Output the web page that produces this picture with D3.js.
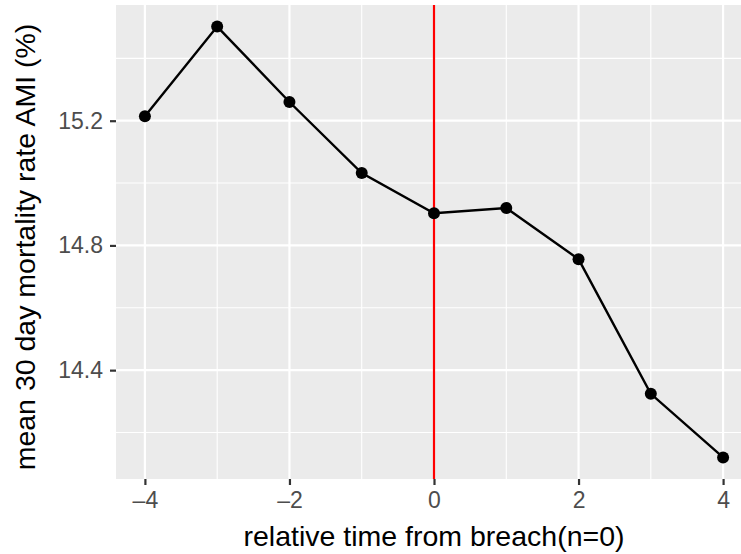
<html>
<head>
<script src="https://d3js.org/d3.v7.min.js"></script>
</head>
<body style="margin:0">
<svg id="chart" width="741" height="554"></svg>
<script>
// relative time from breach and mean 30-day AMI mortality (%)
const times = [-4, -3, -2, -1, 0, 1, 2, 3, 4];
const mortality = [15.214, 15.502, 15.260, 15.032, 14.903, 14.920, 14.756, 14.324, 14.120];
const xTicks = [-4, -2, 0, 2, 4];
const yTicks = [14.4, 14.8, 15.2];
const yMinor = [14.2, 14.6, 15.0, 15.4];
const xMinor = [-3, -1, 1, 3];

const svg = d3.select("#chart");
const panel = { left: 116, top: 5, right: 752, bottom: 479 };
const font = "Liberation Sans, Arial, sans-serif";

svg.append("rect").attr("width", 741).attr("height", 554).attr("fill", "white");

// ggplot-style 5% expansion
const xExt = d3.extent(times), yExt = d3.extent(mortality);
const xPad = (xExt[1] - xExt[0]) * 0.05, yPad = (yExt[1] - yExt[0]) * 0.05;
const x = d3.scaleLinear().domain([xExt[0] - xPad, xExt[1] + xPad]).range([panel.left, panel.right]);
const y = d3.scaleLinear().domain([yExt[0] - yPad, yExt[1] + yPad]).range([panel.bottom, panel.top]);

svg.append("rect")
    .attr("x", panel.left).attr("y", panel.top)
    .attr("width", panel.right - panel.left).attr("height", panel.bottom - panel.top)
    .attr("fill", "#EBEBEB");

const grid = svg.append("g");
grid.selectAll("line.ymin").data(yMinor).join("line")
    .attr("x1", panel.left).attr("x2", panel.right)
    .attr("y1", d => y(d)).attr("y2", d => y(d))
    .attr("stroke", "white").attr("stroke-width", 1.1);
grid.selectAll("line.xmin").data(xMinor).join("line")
    .attr("y1", panel.top).attr("y2", panel.bottom)
    .attr("x1", d => x(d)).attr("x2", d => x(d))
    .attr("stroke", "white").attr("stroke-width", 1.1);
grid.selectAll("line.ymaj").data(yTicks).join("line")
    .attr("x1", panel.left).attr("x2", panel.right)
    .attr("y1", d => y(d)).attr("y2", d => y(d))
    .attr("stroke", "white").attr("stroke-width", 2.2);
grid.selectAll("line.xmaj").data(xTicks).join("line")
    .attr("y1", panel.top).attr("y2", panel.bottom)
    .attr("x1", d => x(d)).attr("x2", d => x(d))
    .attr("stroke", "white").attr("stroke-width", 2.2);

// breach line
svg.append("line")
    .attr("x1", x(0)).attr("x2", x(0))
    .attr("y1", panel.top).attr("y2", panel.bottom)
    .attr("stroke", "red").attr("stroke-width", 2.2);

const pts = times.map((t, i) => [t, mortality[i]]);
svg.append("path").datum(pts)
    .attr("d", d3.line().x(d => x(d[0])).y(d => y(d[1])))
    .attr("fill", "none").attr("stroke", "black").attr("stroke-width", 2.4);
svg.selectAll("circle.pt").data(pts).join("circle")
    .attr("cx", d => x(d[0])).attr("cy", d => y(d[1])).attr("r", 6)
    .attr("fill", "black");

// axes
const xAxis = svg.append("g").attr("transform", `translate(0,${panel.bottom})`)
    .call(d3.axisBottom(x).tickValues(xTicks).tickSize(6).tickPadding(7)
        .tickFormat(d => d < 0 ? "\u2013" + Math.abs(d) : d));
const yAxis = svg.append("g").attr("transform", `translate(${panel.left},0)`)
    .call(d3.axisLeft(y).tickValues(yTicks).tickSize(6).tickPadding(7).tickFormat(d3.format(".1f")));
[xAxis, yAxis].forEach(a => {
    a.select(".domain").remove();
    a.selectAll(".tick line").attr("stroke", "#333333").attr("stroke-width", 2.2);
    a.selectAll(".tick text").attr("fill", "#4D4D4D")
        .style("font-family", font).style("font-size", "23px");
});

svg.append("text")
    .attr("x", (panel.left + panel.right) / 2).attr("y", 546)
    .attr("text-anchor", "middle").attr("fill", "black")
    .style("font-family", font).style("font-size", "28.5px")
    .text("relative time from breach(n=0)");
svg.append("text")
    .attr("transform", `translate(35,${(panel.top + panel.bottom) / 2 + 5}) rotate(-90)`)
    .attr("text-anchor", "middle").attr("fill", "black")
    .style("font-family", font).style("font-size", "28.5px")
    .text("mean 30 day mortality rate AMI (%)");
</script>
</body>
</html>
